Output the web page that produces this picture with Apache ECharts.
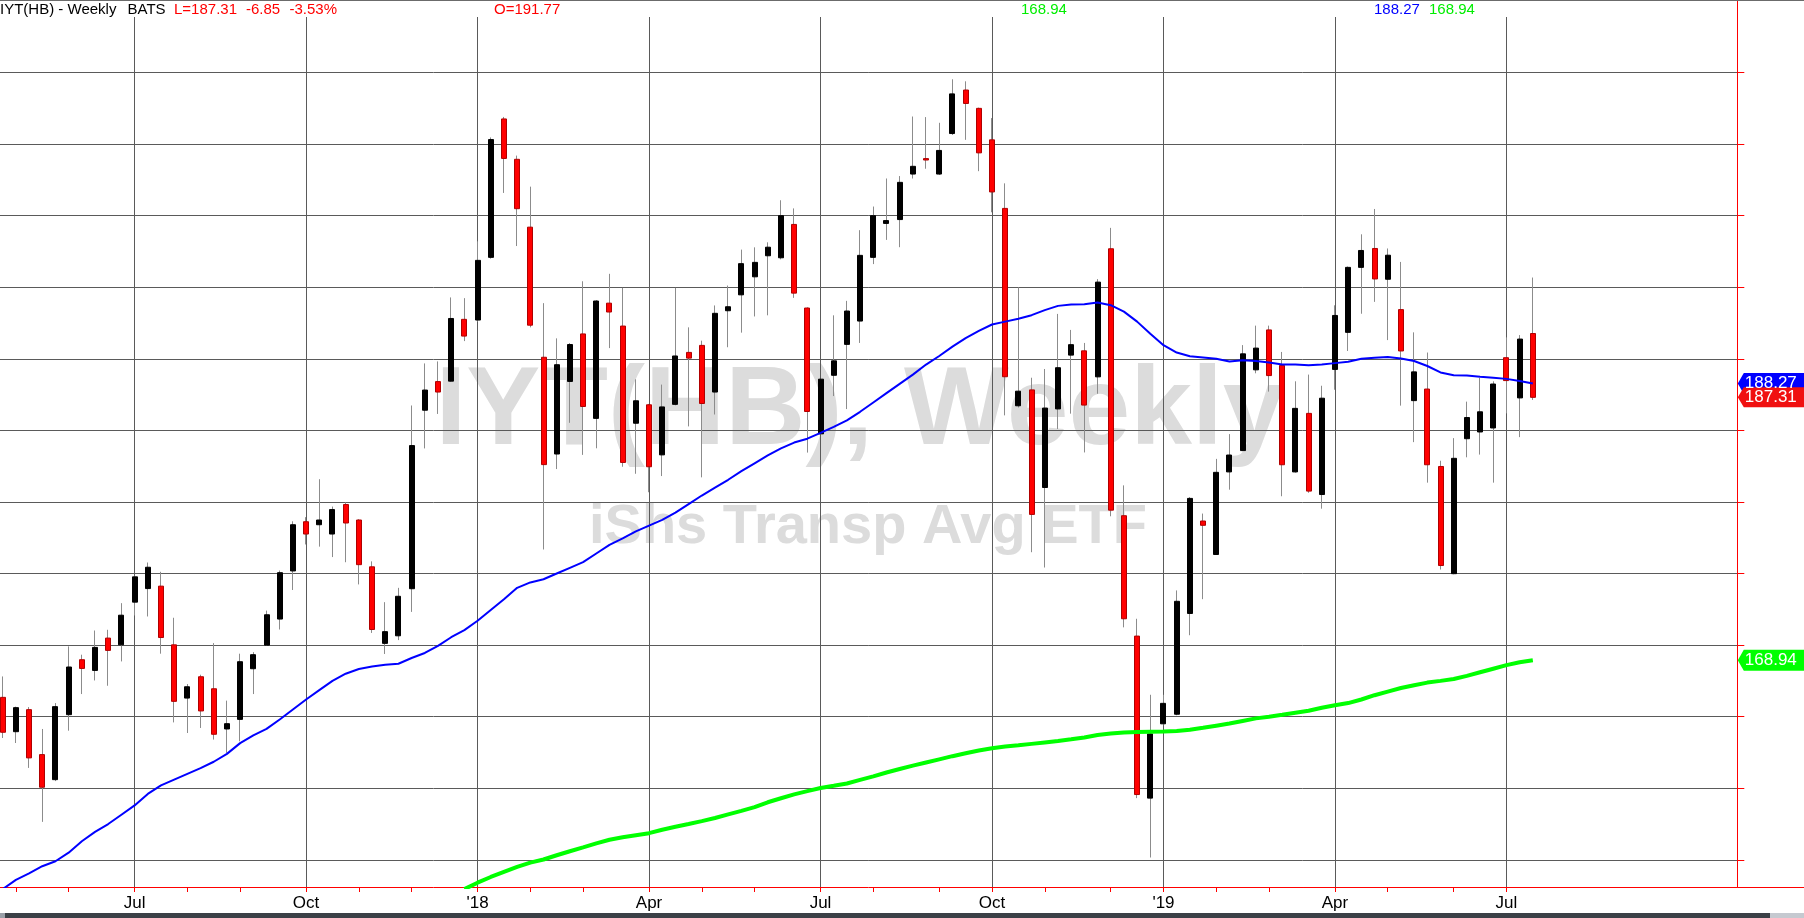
<!DOCTYPE html>
<html><head><meta charset="utf-8">
<script src="https://cdn.jsdelivr.net/npm/echarts@6/dist/echarts.min.js"></script>
<style>html,body{margin:0;padding:0;background:#fff;overflow:hidden}#c{width:1804px;height:918px}</style>
</head><body><div id="c"></div>
<script>
// ---------- DATA ----------
// weekly bars (Friday dates) starting 2017-04-28, 132 slots (last 15 empty)
const firstWeek = [2017, 3, 28];
const weekSlots = 132;
const weeks = [];
for (let i = 0; i < weekSlots; i++) {
  const d = new Date(Date.UTC(firstWeek[0], firstWeek[1], firstWeek[2]) + i * 7 * 86400000);
  weeks.push(d.toISOString().slice(0, 10));
}
const opens = [166.35,163.95,165.49,162.35,160.60,165.14,168.98,168.23,170.49,170.02,
173.00,173.95,174.12,170.02,166.30,167.79,166.95,164.14,164.81,168.35,
170.00,171.82,175.18,178.62,178.41,177.76,179.82,178.74,175.47,170.12,
170.65,173.94,186.41,188.41,188.44,192.76,192.71,197.09,206.76,203.94,
199.20,190.11,183.35,188.42,191.74,185.84,193.89,192.29,185.50,186.79,
183.29,186.82,190.45,190.94,187.68,193.36,194.47,195.73,197.20,197.06,
199.39,193.55,184.76,188.85,191.01,192.64,197.09,199.46,199.73,202.91,
203.99,202.91,205.74,208.78,207.50,205.30,200.51,186.72,187.83,181.01,
186.50,190.26,190.56,188.74,197.69,179.04,170.63,159.31,164.50,165.17,
172.21,178.67,176.33,182.10,183.59,189.23,192.02,189.54,182.10,186.19,
180.52,189.26,191.85,196.39,197.71,195.56,193.44,187.08,187.89,182.48,
174.99,184.42,184.89,185.17,190.08,187.27,191.77];
const closes = [163.91,165.63,162.12,160.07,165.70,168.47,168.37,169.84,169.63,172.09,
174.77,175.44,170.53,166.07,167.09,165.40,163.77,164.51,168.84,169.33,
172.12,175.06,178.41,177.76,178.74,179.47,178.53,175.62,171.09,170.94,
173.41,183.94,187.82,187.68,192.82,191.59,196.88,205.32,204.00,200.49,
192.35,182.61,189.59,191.00,186.67,194.04,193.27,182.76,187.07,182.46,
186.64,190.20,190.05,186.88,193.18,193.64,196.65,196.74,197.80,200.00,
194.59,186.32,188.58,189.86,193.34,197.23,200.00,199.66,202.33,203.45,
203.89,204.56,208.51,207.84,204.39,201.66,188.75,187.74,179.13,186.56,
189.38,190.99,186.77,195.36,179.43,171.84,159.56,163.80,165.93,173.06,
180.25,178.37,182.07,183.28,190.35,190.75,188.83,182.60,186.54,180.76,
187.25,193.03,196.39,197.57,195.58,197.24,190.55,189.09,182.60,175.56,
183.05,185.90,186.30,188.24,188.48,191.38,187.31];
const lows = [163.51,163.16,161.42,157.65,160.50,164.02,166.58,167.53,167.16,168.86,
172.07,172.00,169.40,164.60,163.86,164.21,163.40,162.47,163.28,166.58,
169.95,171.09,173.85,177.03,176.88,176.15,175.79,174.24,170.85,169.38,
170.35,172.32,183.74,186.15,188.40,191.24,192.60,197.00,201.59,197.88,
192.20,176.68,182.30,185.53,183.29,183.75,190.75,182.46,181.97,180.68,
181.81,186.75,185.28,181.72,186.11,190.81,191.83,192.96,193.04,196.95,
194.26,183.45,184.70,187.40,186.49,191.11,196.62,198.31,197.80,202.60,
203.28,202.85,205.64,205.30,203.11,200.24,186.05,186.60,176.49,175.42,
185.10,186.17,183.46,187.56,179.00,171.24,159.31,155.16,164.40,165.10,
170.69,173.21,176.30,180.86,183.55,188.99,187.71,180.40,182.05,180.64,
179.53,187.84,190.55,193.15,193.98,191.31,186.73,184.18,181.35,175.28,
174.95,183.12,183.31,181.35,186.19,184.53,187.13];
const highs = [167.81,165.70,165.67,164.14,165.95,169.91,169.33,171.02,171.07,172.93,
174.85,175.77,175.12,171.91,167.28,167.93,170.14,166.12,169.40,169.51,
172.41,175.21,178.65,178.94,181.59,179.68,179.97,178.80,175.85,173.00,
174.00,186.74,189.68,189.82,194.29,194.24,198.21,205.47,206.90,204.20,
202.03,193.89,191.43,191.10,195.42,194.10,195.94,194.96,188.57,186.85,
188.20,194.96,192.20,191.27,193.73,195.12,197.63,197.79,198.14,201.08,
200.51,193.60,188.60,193.04,194.05,198.99,200.64,202.60,202.77,206.93,
206.89,206.49,209.53,209.39,207.55,206.82,202.26,195.00,188.68,189.29,
193.14,192.02,191.11,195.57,199.15,181.16,171.84,166.53,166.53,173.82,
180.34,179.19,183.01,184.74,190.96,192.32,192.32,190.48,188.43,188.90,
188.12,193.74,196.45,198.70,200.47,197.71,196.77,191.85,190.44,182.88,
184.46,187.01,188.67,188.43,191.50,191.66,195.68];
const maShort = [152.95,153.6,154.05,154.55,154.9,155.5,156.3,156.95,157.5,158.15,
158.8,159.6,160.2,160.6,161.0,161.4,161.85,162.4,163.15,163.7,
164.15,164.8,165.5,166.2,166.85,167.5,168.0,168.33,168.5,168.63,
168.7,169.1,169.45,169.95,170.55,171.05,171.7,172.45,173.2,174.0,
174.38,174.6,175.0,175.4,175.8,176.4,177.0,177.45,177.95,178.35,
178.75,179.25,179.85,180.45,181.0,181.55,182.15,182.7,183.25,183.75,
184.15,184.42,184.83,185.25,185.7,186.3,186.95,187.6,188.25,188.9,
189.6,190.2,190.85,191.45,191.95,192.4,192.6,192.8,193.05,193.4,
193.7,193.8,193.82,193.93,193.75,193.3,192.6,191.75,190.95,190.44,
190.18,190.1,190.0,189.82,189.9,189.85,189.75,189.6,189.6,189.55,
189.6,189.7,189.8,190.0,190.08,190.13,190.02,189.85,189.5,189.05,
188.85,188.83,188.75,188.68,188.6,188.45,188.27];
const maLong = [null,null,null,null,null,null,null,null,null,null,
null,null,null,null,null,null,null,null,null,null,
null,null,null,null,null,null,null,null,null,null,
null,null,null,null,null,152.95,153.4,153.8,154.15,154.5,
154.8,155.02,155.32,155.6,155.87,156.15,156.4,156.57,156.72,156.86,
157.1,157.31,157.5,157.7,157.92,158.17,158.42,158.68,159.02,159.3,
159.57,159.8,160.02,160.17,160.33,160.58,160.83,161.1,161.34,161.58,
161.8,162.02,162.24,162.44,162.64,162.8,162.92,163.0,163.1,163.2,
163.3,163.42,163.55,163.72,163.83,163.9,163.93,163.95,163.97,164.0,
164.08,164.22,164.37,164.52,164.7,164.88,165.0,165.13,165.27,165.41,
165.62,165.8,165.95,166.2,166.5,166.75,167.0,167.2,167.38,167.5,
167.63,167.85,168.1,168.35,168.6,168.8,168.94];
const tickLabels = [['2017-07-07','Jul'],['2017-10-06','Oct'],['2018-01-05',"'18"],['2018-04-06','Apr'],
['2018-07-06','Jul'],['2018-10-05','Oct'],['2019-01-04',"'19"],['2019-04-05','Apr'],['2019-07-05','Jul']];
const priceLevels = [155,160,165,170,175,180,185,190,195,200,205,210];
const yRange = [153.1, 215.0];
const header = {name:'IYT(HB) - Weekly', exch:'BATS', last:'L=187.31', chg:'-6.85', pct:'-3.53%', open:'O=191.77'};
const lastShort = 188.27, lastLong = 168.94, lastClose = 187.31;

// ---------- CHART ----------
const labelMap = {};
tickLabels.forEach(p => labelMap[p[0]] = p[1]);
const nData = opens.length;
const isMonthStart = i => i < nData && +weeks[i].slice(8, 10) <= 7;

const wickData = opens.map((o, i) => [o, closes[i], lows[i], highs[i]]);
const bodyData = opens.map((o, i) => [o, closes[i], Math.min(o, closes[i]), Math.max(o, closes[i])]);

const gridLeft = -3.9, gridRightPx = 1737.3, gridTop = 1, gridBottomPx = 887;
const chart = echarts.init(document.getElementById('c'), null, {renderer: 'canvas'});
const FONT = "'Liberation Sans', Arial, sans-serif";
chart.setOption({
  animation: false,
  backgroundColor: '#ffffff',
  grid: {left: gridLeft, right: 1804 - gridRightPx, top: gridTop, bottom: 918 - gridBottomPx,
         containLabel: false, outerBoundsMode: 'none'},
  xAxis: {
    type: 'category', data: weeks, boundaryGap: true,
    axisLine: {show: true, lineStyle: {color: '#ff0000', width: 1}},
    axisTick: {show: true, alignWithLabel: true, interval: (i) => isMonthStart(i), length: 5,
               lineStyle: {color: '#ff0000'}},
    axisLabel: {show: true, interval: (i, v) => labelMap[v] !== undefined, formatter: v => labelMap[v] || '',
                color: '#000', fontSize: 17, fontFamily: FONT, margin: 8},
    splitLine: {show: true, alignWithLabel: true, interval: (i, v) => labelMap[v] !== undefined,
                lineStyle: {color: '#5a5a5a', width: 1}}
  },
  yAxis: {
    type: 'value', position: 'right', min: yRange[0], max: yRange[1], scale: true,
    axisLine: {show: true, lineStyle: {color: '#ff0000', width: 1}},
    axisTick: {show: true, customValues: priceLevels, length: 7, inside: false, lineStyle: {color: '#ff0000'}},
    axisLabel: {show: false},
    splitLine: {show: true, lineStyle: {color: '#5a5a5a', width: 1}}
  },
  series: [
    {name: 'wicks', type: 'candlestick', data: wickData, barWidth: 1, z: 2,
     itemStyle: {color: '#8c8c8c', color0: '#8c8c8c', borderColor: '#8c8c8c', borderColor0: '#8c8c8c', borderWidth: 1}},
    {name: 'bodies', type: 'candlestick', data: bodyData, barWidth: 5.5, z: 3,
     itemStyle: {color: '#000000', color0: '#ff0000', borderColor: '#000000', borderColor0: '#b00000', borderWidth: 1}},
    {name: 'MA short', type: 'line', data: maShort, symbol: 'none', z: 4,
     lineStyle: {color: '#0000ff', width: 2}},
    {name: 'MA long', type: 'line', data: maLong, symbol: 'none', z: 4,
     lineStyle: {color: '#00ff00', width: 4}}
  ]
});

const yPix = v => chart.convertToPixel({yAxisIndex: 0}, v);
const txt = (s, x, y, color, size, extra) => Object.assign({
  type: 'text', z: 20, silent: true,
  style: {text: s, x: x, y: y, fill: color, font: size + 'px ' + FONT, textAlign: 'left', align: 'left',
          textVerticalAlign: 'middle', verticalAlign: 'middle'}
}, extra || {});
function tag(value, color, h) {
  const y = yPix(value), x0 = gridRightPx + 0.5;
  return [
    {type: 'polygon', z: 30, silent: true,
     shape: {points: [[x0, y], [x0 + 6, y - h / 2], [1804, y - h / 2], [1804, y + h / 2], [x0 + 6, y + h / 2]]},
     style: {fill: color}},
    {type: 'text', z: 31, silent: true,
     style: {text: value.toFixed(2), x: x0 + 7, y: y, fill: '#ffffff', font: '17px ' + FONT,
             textAlign: 'left', align: 'left', textVerticalAlign: 'middle', verticalAlign: 'middle'}}
  ];
}
const axisY = yPix(yRange[0]);
const graphics = [
  // watermark
  {type: 'text', z: -10, silent: true,
   style: {text: 'IYT(HB), Weekly', x: 860, y: 413, fill: '#dcdcdc', font: 'bold 111px ' + FONT,
           textAlign: 'center', align: 'center', textVerticalAlign: 'middle', verticalAlign: 'middle'}},
  {type: 'text', z: -10, silent: true,
   style: {text: 'iShs Transp Avg ETF', x: 868, y: 528, fill: '#dcdcdc', font: 'bold 56px ' + FONT,
           textAlign: 'center', align: 'center', textVerticalAlign: 'middle', verticalAlign: 'middle'}},
  // header band
  {type: 'rect', z: 15, silent: true, shape: {x: 0, y: 1, width: gridRightPx - 0.5, height: 16}, style: {fill: '#ffffff'}},
  {type: 'line', z: 16, silent: true, shape: {x1: 0, y1: 0.5, x2: 1804, y2: 0.5}, style: {stroke: '#6b6b6b', lineWidth: 1}},
  txt(header.name, 0, 10, '#000000', 15),
  txt(header.exch, 127.5, 10, '#000000', 15),
  txt(header.last, 174, 10, '#ff0000', 15),
  txt(header.chg, 246, 10, '#ff0000', 15),
  txt(header.pct, 289.5, 10, '#ff0000', 15),
  txt(header.open, 494, 10, '#ff0000', 15),
  txt(lastLong.toFixed(2), 1021, 10, '#00ee00', 15),
  txt(lastShort.toFixed(2), 1374, 10, '#0000ff', 15),
  txt(lastLong.toFixed(2), 1429, 10, '#00ee00', 15),
  // axis line extension to the right edge
  {type: 'line', z: 16, silent: true, shape: {x1: gridRightPx, y1: axisY + 0.5, x2: 1804, y2: axisY + 0.5},
   style: {stroke: '#ff0000', lineWidth: 1}},
  // bottom strip
  {type: 'rect', z: 16, silent: true, shape: {x: 5, y: 913, width: 1765, height: 5}, style: {fill: '#3b4046'}},
  {type: 'rect', z: 16, silent: true, shape: {x: 1770, y: 913, width: 34, height: 5}, style: {fill: '#c5c9d0'}},
  {type: 'rect', z: 16, silent: true, shape: {x: 0, y: 913, width: 5, height: 5}, style: {fill: '#9aa0a8'}}
].concat(tag(lastShort, '#0000ff', 21), tag(lastClose, '#f01010', 20), tag(lastLong, '#00ff00', 21));
chart.setOption({graphic: graphics});
</script></body></html>
